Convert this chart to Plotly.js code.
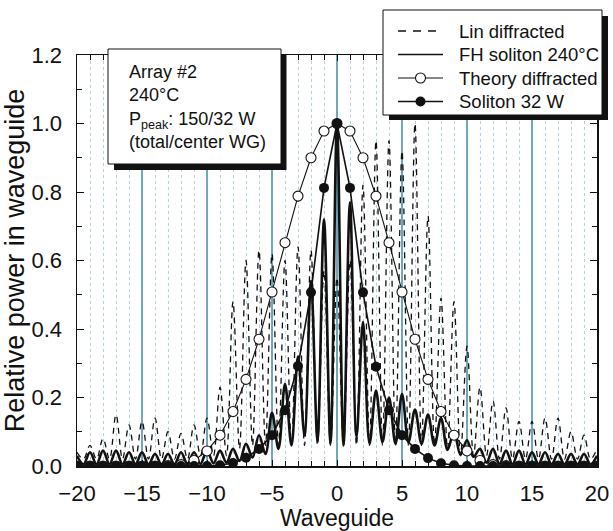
<!DOCTYPE html>
<html>
<head>
<meta charset="utf-8">
<script src="https://cdn.plot.ly/plotly-3.0.1.min.js"></script>
<style>html,body{margin:0;padding:0;background:#fff;}#chart{width:613px;height:531px;}</style>
</head>
<body>
<div id="chart"></div>
<script>
// Waveguide indices (integer positions)
const waveguides = [-20,-19,-18,-17,-16,-15,-14,-13,-12,-11,-10,-9,-8,-7,-6,-5,-4,-3,-2,-1,0,1,2,3,4,5,6,7,8,9,10,11,12,13,14,15,16,17,18,19,20];

// Theory diffracted (open circles), value at each waveguide
const theoryDiffracted = [0,0,0,0,0,0,0,0.001,0.004,0.016,0.044,0.09,0.159,0.253,0.37,0.508,0.652,0.788,0.90,0.978,1.0,0.978,0.90,0.788,0.652,0.508,0.37,0.253,0.159,0.09,0.044,0.016,0.004,0.001,0,0,0,0,0,0,0];

// Soliton 32 W (filled circles), value at each waveguide
const soliton32W = [0,0,0,0,0,0,0,0,0,0,0,0.002,0.009,0.024,0.05,0.09,0.163,0.292,0.507,0.812,1.0,0.812,0.507,0.29,0.163,0.09,0.05,0.023,0.008,0.002,0,0,0,0,0,0,0,0,0,0,0];

// FH soliton 240°C: peak values at waveguides and minima between neighbouring waveguides
const fhPeaks = [0.03,0.04,0.045,0.045,0.04,0.04,0.035,0.035,0.04,0.04,0.045,0.045,0.05,0.065,0.09,0.155,0.24,0.32,0.54,0.72,1.0,0.77,0.42,0.22,0.20,0.21,0.165,0.15,0.14,0.10,0.075,0.05,0.05,0.045,0.045,0.04,0.04,0.035,0.035,0.035,0.03];
const fhMinima = [0.005,0.005,0.005,0.005,0.005,0.005,0.005,0.005,0.005,0.006,0.008,0.01,0.015,0.025,0.035,0.05,0.06,0.09,0.075,0.065,0.06,0.085,0.065,0.07,0.065,0.07,0.065,0.06,0.047,0.033,0.027,0.01,0.006,0.005,0.005,0.005,0.005,0.005,0.005,0.005];

// Lin diffracted: peak values at waveguides and minima between them
const linPeaks = [0.04,0.06,0.08,0.15,0.12,0.13,0.14,0.10,0.095,0.12,0.14,0.23,0.48,0.60,0.63,0.62,0.60,0.64,0.63,0.57,0.55,0.60,0.82,0.95,0.95,0.92,1.0,0.73,0.49,0.48,0.35,0.23,0.19,0.17,0.13,0.13,0.14,0.14,0.10,0.09,0.05];
const linMinima = [0.02,0.02,0.02,0.02,0.02,0.02,0.02,0.02,0.02,0.03,0.03,0.03,0.05,0.06,0.06,0.06,0.06,0.06,0.06,0.06,0.06,0.06,0.06,0.06,0.06,0.06,0.06,0.06,0.05,0.03,0.03,0.03,0.02,0.02,0.02,0.02,0.02,0.02,0.02,0.02];

// Legend labels
const seriesNames = ['Lin diffracted', 'FH soliton 240°C', 'Theory diffracted', 'Soliton 32 W'];

function interleave(xs, peaks, minima) {
  const x = [], y = [];
  for (let i = 0; i < xs.length; i++) {
    x.push(xs[i]); y.push(peaks[i]);
    if (i < minima.length) { x.push((xs[i] + xs[i+1]) / 2); y.push(minima[i]); }
  }
  return {x, y};
}
const lin = interleave(waveguides, linPeaks, linMinima);
const fh = interleave(waveguides, fhPeaks, fhMinima);

const FONT = '"Liberation Sans", Arial, Helvetica, sans-serif';
const INK = '#111';

const styles = [
  {line: {color: INK, width: 1.3, dash: '6px,5px'}, marker: null},
  {line: {color: INK, width: 2.6}, marker: null},
  {line: {color: INK, width: 1.1}, marker: {fill: '#fff', w: 1.1}},
  {line: {color: INK, width: 1.6}, marker: {fill: INK, w: 0}}
];

const traces = [
  {name: seriesNames[0], x: lin.x, y: lin.y, mode: 'lines', type: 'scatter',
   line: Object.assign({shape: 'spline', smoothing: 1}, styles[0].line)},
  {name: seriesNames[1], x: fh.x, y: fh.y, mode: 'lines', type: 'scatter',
   line: Object.assign({shape: 'spline', smoothing: 1}, styles[1].line)},
  {name: seriesNames[2], x: waveguides, y: theoryDiffracted, mode: 'lines+markers', type: 'scatter',
   line: styles[2].line,
   marker: {symbol: 'circle', size: 10, color: '#fff', line: {color: INK, width: 1.1}}},
  {name: seriesNames[3], x: waveguides, y: soliton32W, mode: 'lines+markers', type: 'scatter',
   line: styles[3].line,
   marker: {symbol: 'circle', size: 10, color: INK, line: {color: INK, width: 0}}}
];

// pixel -> paper helpers (plot area spans x 77..597, y 55..466)
const px2x = p => (p - 77) / 520;
const px2y = p => (466 - p) / 411;

const shapes = [
  // text box shadow and box
  {type: 'rect', xref: 'paper', yref: 'paper', layer: 'above',
   x0: px2x(114), x1: px2x(286.5), y0: px2y(170), y1: px2y(55), fillcolor: INK, line: {width: 0}},
  {type: 'rect', xref: 'paper', yref: 'paper', layer: 'above',
   x0: px2x(108), x1: px2x(281), y0: px2y(164), y1: px2y(49), fillcolor: '#fff', line: {color: INK, width: 1}},
  // legend box shadow (right and bottom strips) and box
  {type: 'rect', xref: 'paper', yref: 'paper', layer: 'above',
   x0: px2x(601), x1: px2x(608), y0: px2y(120), y1: px2y(16), fillcolor: INK, line: {width: 0}},
  {type: 'rect', xref: 'paper', yref: 'paper', layer: 'above',
   x0: px2x(389), x1: px2x(608), y0: px2y(120), y1: px2y(114), fillcolor: INK, line: {width: 0}},
  {type: 'rect', xref: 'paper', yref: 'paper', layer: 'above',
   x0: px2x(383), x1: px2x(602), y0: px2y(115), y1: px2y(10), fillcolor: '#fff', line: {color: INK, width: 1}}
];
const annotations = [
  {xref: 'paper', yref: 'paper', x: px2x(127), y: px2y(60), xanchor: 'left', yanchor: 'top',
   align: 'left', showarrow: false, font: {family: FONT, size: 18, color: INK},
   text: 'Array #2<br>240°C<br>P<sub>peak</sub>: 150/32 W<br>(total/center WG)'}
];
// legend entries (sample line + optional circle + label)
const rowY = [31, 54.5, 78, 101.5];
seriesNames.forEach((name, i) => {
  const st = styles[i], yy = px2y(rowY[i]);
  const ln = {color: st.line.color, width: i === 1 ? 1.6 : st.line.width};
  if (i === 0) ln.dash = '8px,7px';
  shapes.push({type: 'line', xref: 'paper', yref: 'paper', layer: 'above',
    x0: px2x(398), x1: px2x(443), y0: yy, y1: yy, line: ln});
  if (st.marker) {
    shapes.push({type: 'circle', xref: 'paper', yref: 'paper', layer: 'above',
      x0: px2x(415.5), x1: px2x(425.5), y0: px2y(rowY[i] + 5), y1: px2y(rowY[i] - 5),
      fillcolor: st.marker.fill, line: {color: INK, width: st.marker.w || 0.01}});
  }
  annotations.push({xref: 'paper', yref: 'paper', x: px2x(457), y: yy, xanchor: 'left', yanchor: 'middle',
    showarrow: false, font: {family: FONT, size: 18.5, color: INK}, text: name});
});

const layout = {
  width: 613, height: 531,
  margin: {l: 77, r: 16, t: 55, b: 65},
  paper_bgcolor: '#fff', plot_bgcolor: '#fff',
  font: {family: FONT, color: INK, size: 20},
  showlegend: false,
  xaxis: {range: [-20, 20], tick0: -20, dtick: 5, ticks: 'inside', ticklen: 6, tickcolor: INK,
          showline: true, linecolor: INK, linewidth: 1.5, mirror: 'allticks', zeroline: false,
          showgrid: true, gridcolor: '#6fa8b8', gridwidth: 1.1,
          minor: {dtick: 1, ticks: 'inside', ticklen: 5, tickcolor: INK, showgrid: true,
                  gridcolor: '#b0d2e2', griddash: 'dot', gridwidth: 1},
          tickfont: {size: 22}, ticklabelstandoff: 7,
          title: {text: 'Waveguide', font: {size: 23}, standoff: 2}},
  yaxis: {range: [0, 1.2], tick0: 0, dtick: 0.2, tickformat: '.1f', ticks: 'inside', ticklen: 7, tickcolor: INK,
          showline: true, linecolor: INK, linewidth: 1.5, mirror: 'allticks', zeroline: false,
          showgrid: false,
          minor: {dtick: 0.1, ticks: 'inside', ticklen: 5, tickcolor: INK},
          tickfont: {size: 22}, ticklabelstandoff: 9,
          title: {text: 'Relative power in waveguide', font: {size: 27}, standoff: 1}},
  shapes: shapes,
  annotations: annotations
};

Plotly.newPlot('chart', traces, layout, {displayModeBar: false, staticPlot: true});
</script>
</body>
</html>
